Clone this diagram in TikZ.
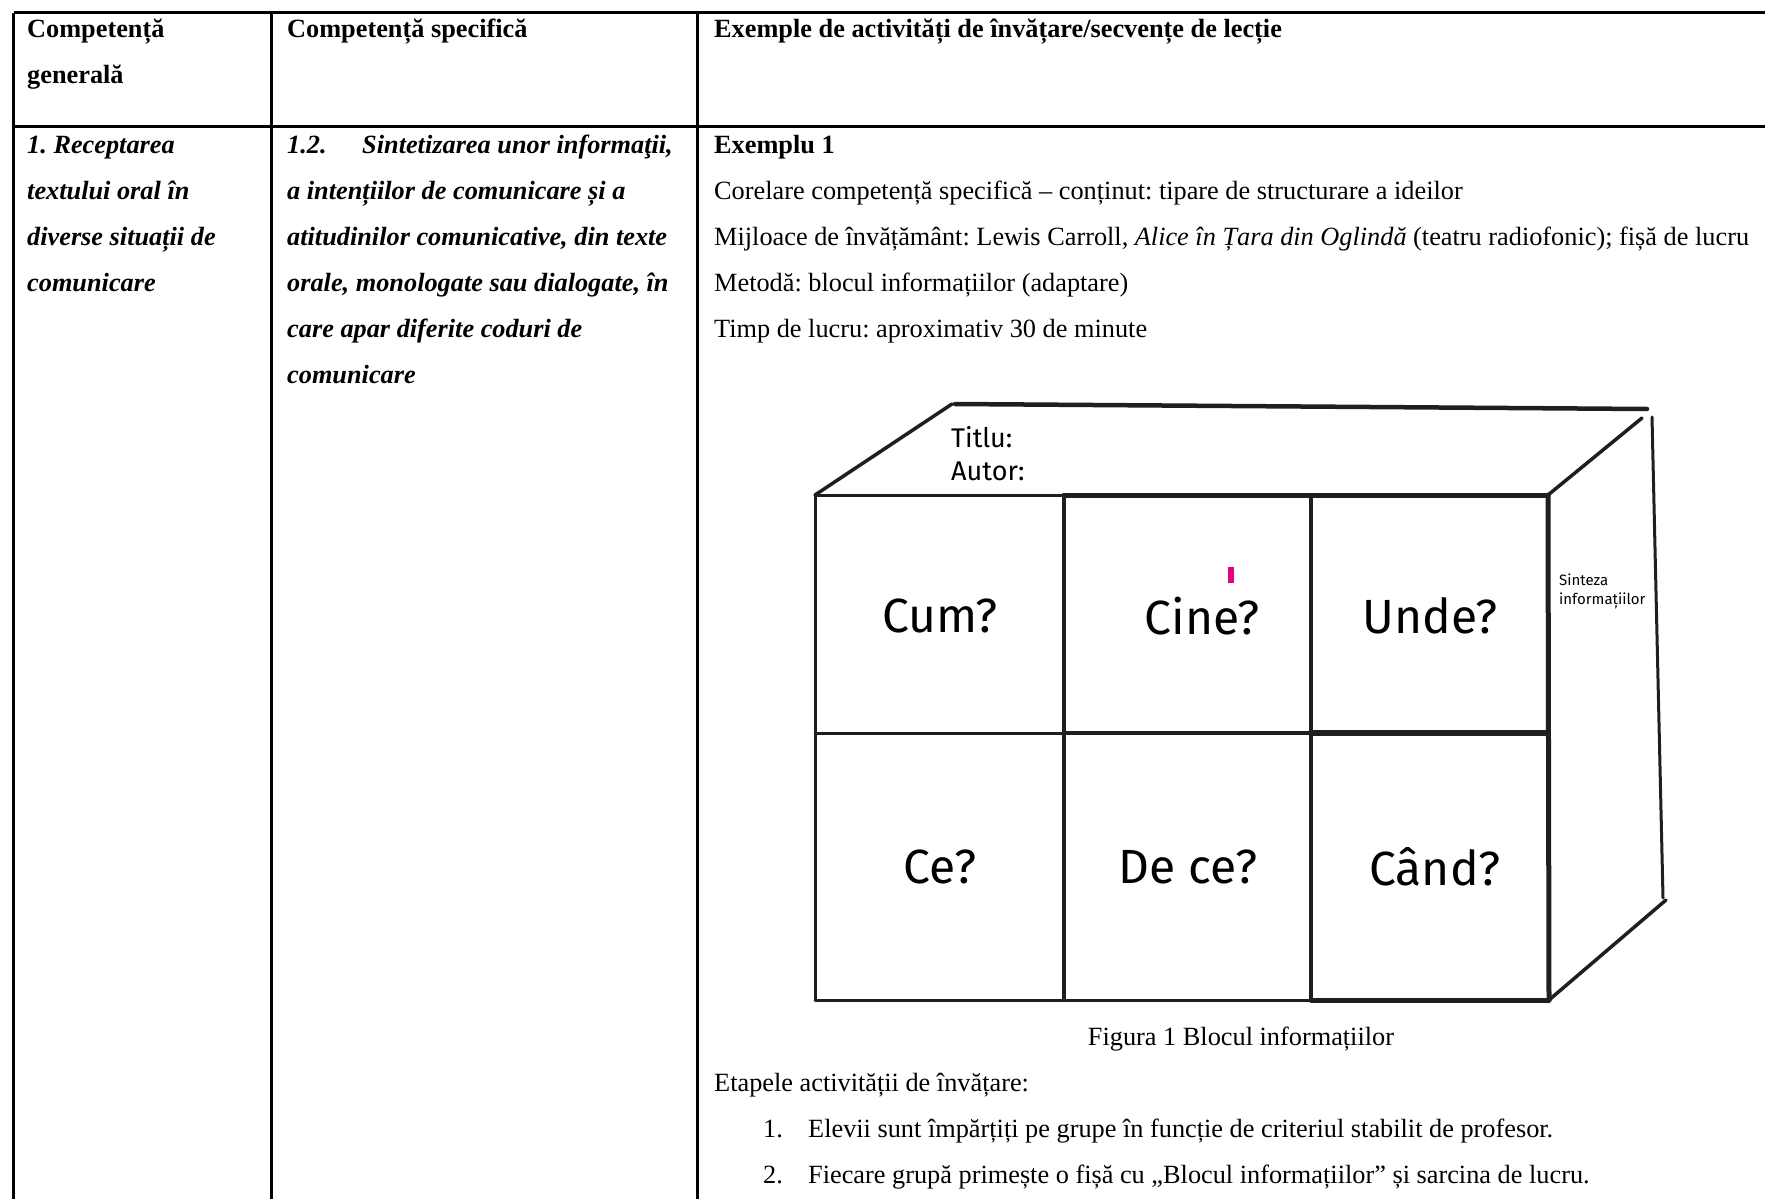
\documentclass[tikz,border=0pt]{standalone}
\usepackage{fontspec}
\usetikzlibrary{calc}
\setmainfont{Liberation Serif}
\newfontfamily\handfont{Fira Sans}
\frenchspacing
\begin{document}
\begin{tikzpicture}[x=1pt,y=-1pt,
  tline/.style={line width=2.4pt,black},
  bline/.style={line width=#1,draw=black!88,line cap=round,line join=round},
  bline/.default=3.5pt,
  txt/.style={anchor=base west,inner sep=0pt,font=\fontsize{26.3}{26}\selectfont},
  txtb/.style={txt,font=\fontsize{26.3}{26}\selectfont\bfseries},
  txtbi/.style={txt,font=\fontsize{26.3}{26}\selectfont\bfseries\itshape},
  cell/.style={inner sep=0pt,font=\handfont\fontsize{48}{48}\selectfont},
  small/.style={anchor=base west,inner sep=0pt,font=\handfont\fontsize{27}{27}\selectfont},
  tiny/.style={anchor=base west,inner sep=0pt,font=\handfont\fontsize{15}{15}\selectfont}]
\useasboundingbox (0,0) rectangle (1765,1199);
% table grid
\coordinate (t0) at (13.5,12.7);
\coordinate (t1) at (1765,12.7);
\coordinate (h0) at (13.5,126.5);
\coordinate (h1) at (1765,126.5);
\coordinate (c1t) at (271.5,12.7);
\coordinate (c1b) at (271.5,1199);
\coordinate (c2t) at (697.5,12.7);
\coordinate (c2b) at (697.5,1199);
\coordinate (c0b) at (13.5,1199);
\draw[tline] (t0) -- (t1);
\draw[tline] (h0) -- (h1);
\draw[tline] (t0) -- (c0b);
\draw[tline] (c1t) -- (c1b);
\draw[tline] (c2t) -- (c2b);
% headers
\node[txtb] (hA1) at (27,38) {Competență};
\node[txtb] (hA2) at (27,84) {generală};
\node[txtb] (hB) at (287,38) {Competență specifică};
\node[txtb] (hC) at (714,38) {Exemple de activități de învățare/secvențe de lecție};
% column 1
\node[txtbi] (a1) at (27,153) {1. Receptarea};
\node[txtbi] (a2) at (27,199) {textului oral în};
\node[txtbi] (a3) at (27,245) {diverse situații de};
\node[txtbi] (a4) at (27,291) {comunicare};
% column 2
\node[txtbi] (b0) at (287,153) {1.2.};
\node[txtbi] (b1) at (362,153) {Sintetizarea unor informaţii,};
\node[txtbi] (b2) at (287,199) {a intențiilor de comunicare și a};
\node[txtbi] (b3) at (287,245) {atitudinilor comunicative, din texte};
\node[txtbi] (b4) at (287,291) {orale, monologate sau dialogate, în};
\node[txtbi] (b5) at (287,337) {care apar diferite coduri de};
\node[txtbi] (b6) at (287,383) {comunicare};
% column 3
\node[txtb] (e1) at (714,153) {Exemplu 1};
\node[txt] (e2) at (714,199) {Corelare competență specifică – conținut: tipare de structurare a ideilor};
\node[txt] (e3) at (714,245) {Mijloace de învățământ: Lewis Carroll, \textit{Alice în Țara din Oglindă} (teatru radiofonic); fișă de lucru};
\node[txt] (e4) at (714,291) {Metodă: blocul informațiilor (adaptare)};
\node[txt] (e5) at (714,337) {Timp de lucru: aproximativ 30 de minute};
% block figure
\coordinate (FTL) at (815,495);
\coordinate (FT1) at (1064,495);
\coordinate (FT2) at (1311,495);
\coordinate (FTR) at (1548,495);
\coordinate (FML) at (815,733);
\coordinate (FM1) at (1064,733);
\coordinate (FM2) at (1311,733);
\coordinate (FMR) at (1548,733);
\coordinate (FBL) at (815,1000);
\coordinate (FB1) at (1064,1000);
\coordinate (FB2) at (1311,1000);
\coordinate (FBR) at (1549,1000);
\coordinate (BTL) at (952,404);
\coordinate (BTL2) at (955,404);
\coordinate (BTR) at (1647,409);
\coordinate (RDT) at (1642,418);
\coordinate (BRT) at (1652,417);
\coordinate (BRB) at (1663,898);
\coordinate (RDB) at (1666,900);
% front face
\draw[bline=3pt] (FTL) -- (FT1);
\draw[bline=5pt] (FT1) -- (FTR);
\draw[bline=3pt] (FML) -- (FM1);
\draw[bline=4.5pt] (FM1) -- (FM2);
\draw[bline=6pt] (FM2) -- (FMR);
\draw[bline=3pt] (FBL) -- (FB2);
\draw[bline=5pt] (FB2) -- (FBR);
\draw[bline=3pt] (FTL) -- (FBL);
\draw[bline=3.5pt] (FT1) -- (FB1);
\draw[bline=3.5pt] (FT2) -- (FB2);
\draw[bline=5pt] (FTR) -- (FBR);
% top and side
\draw[bline=3.5pt] (FTL) -- (BTL);
\draw[bline=4.5pt] (BTL2) -- (BTR);
\draw[bline=3.5pt] (FTR) -- (RDT);
\draw[bline=3pt] (BRT) -- (BRB);
\draw[bline=3.5pt] (RDB) -- (FBR);
% texts in block
\node[small] (titlu) at (951,447) {Titlu:};
\node[small] (autor) at (951,480) {Autor:};
\node[tiny] (sint1) at (1559,585) {Sinteza};
\node[tiny] (sint2) at (1559,604) {informațiilor};
\node[cell] (cum) at (940,616) {Cum?};
\node[cell] (cine) at (1202,616) {Cine?};
\node[cell] (unde) at (1430,616) {Unde?};
\node[cell] (ce) at (940,867) {Ce?};
\node[cell] (dece) at (1188,867) {De ce?};
\node[cell] (cand) at (1435,867) {Când?};
\fill[fill={rgb,255:red,230;green,0;blue,126}] (1228,567) rectangle (1233.5,583);
% caption and steps
\node[txt,anchor=base] (cap) at (1241,1045) {Figura 1 Blocul informațiilor};
\node[txt] (et) at (714,1091) {Etapele activității de învățare:};
\node[txt] (n1) at (763,1137) {1.};
\node[txt] (s1) at (808,1137) {Elevii sunt împărțiți pe grupe în funcție de criteriul stabilit de profesor.};
\node[txt] (n2) at (763,1183) {2.};
\node[txt] (s2) at (808,1183) {Fiecare grupă primește o fișă cu „Blocul informațiilor” și sarcina de lucru.};
\end{tikzpicture}
\end{document}
